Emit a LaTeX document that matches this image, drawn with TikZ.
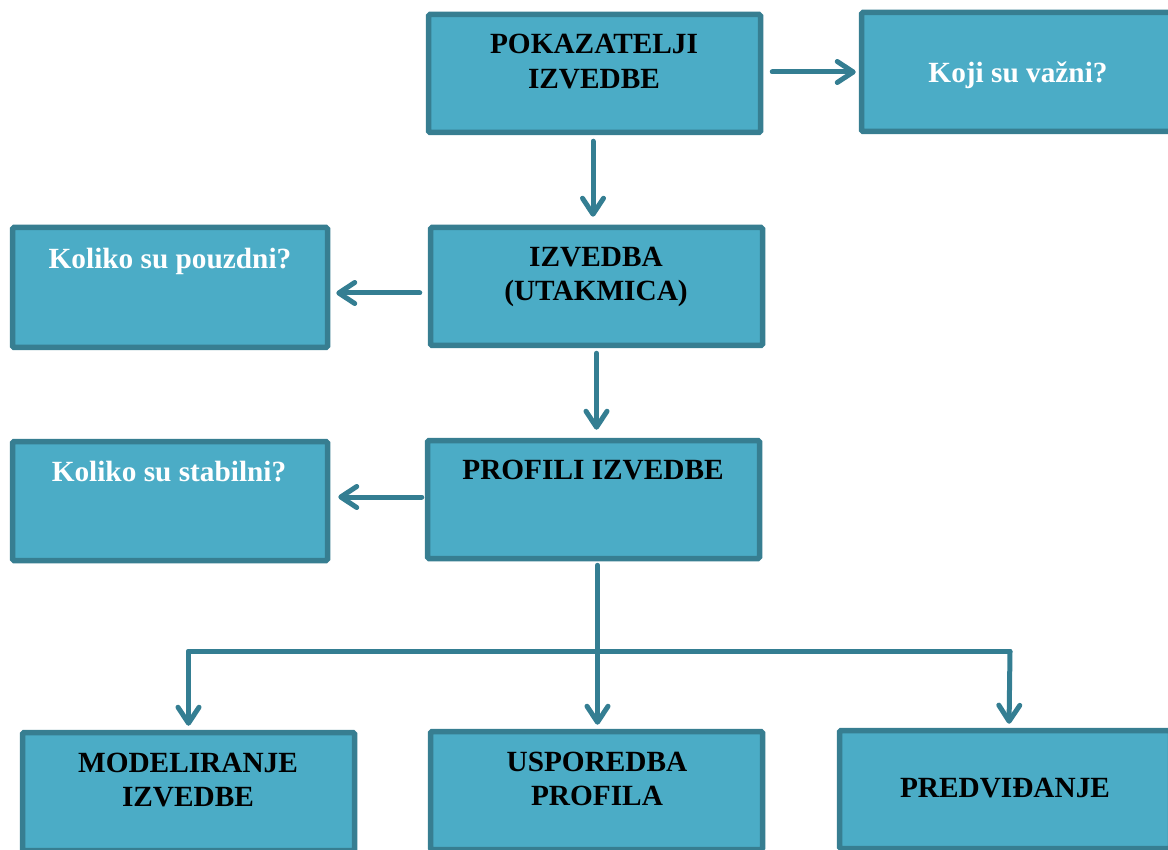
\documentclass[tikz,border=0pt]{standalone}
\usepackage{fontspec}
\setmainfont{Liberation Serif}
\usetikzlibrary{arrows.meta}
\definecolor{boxfill}{HTML}{4BACC6}
\definecolor{boxline}{HTML}{377E91}
\definecolor{arrline}{HTML}{347E92}
\begin{document}
\begin{tikzpicture}[x=1pt,y=-1pt,
  box/.style={draw=boxline, fill=boxfill, line width=5.5pt, rounded corners=1.5pt, inner sep=0pt},
  txt/.style={font=\bfseries\fontsize{29.3}{34.5}\selectfont, align=center, inner sep=0pt},
  dark/.style={txt, text=black},
  light/.style={txt, text=white},
  conn/.style={draw=arrline, line width=5pt, line cap=round},
  arr/.style={conn, -{Straight Barb[length=16pt,width=21pt,round]}}]
\clip (0,0) rectangle (1168,850);
% boxes
\node[box, minimum width=332pt, minimum height=118pt] (b1) at (594.5,73.5) {};
\node[box, minimum width=313pt, minimum height=119pt] (b2) at (1018,72) {};
\node[box, minimum width=315pt, minimum height=120pt] (b3) at (170,287.5) {};
\node[box, minimum width=332pt, minimum height=118pt] (b4) at (596.5,286.5) {};
\node[box, minimum width=315pt, minimum height=119pt] (b5) at (170,501) {};
\node[box, minimum width=332pt, minimum height=118pt] (b6) at (593.5,499.5) {};
\node[box, minimum width=332pt, minimum height=118pt] (b7) at (188.5,791.5) {};
\node[box, minimum width=332pt, minimum height=118pt] (b8) at (596.5,790.5) {};
\node[box, minimum width=331pt, minimum height=118pt] (b9) at (1005,789.5) {};
% texts
\node[dark, anchor=north] (t1) at (594,34) {POKAZATELJI\\IZVEDBE};
\node[light, anchor=base] (t2) at (1018,83) {Koji su važni?};
\node[light, anchor=base] (t3) at (170,269) {Koliko su pouzdni?};
\node[dark, anchor=north] (t4) at (596,246.5) {IZVEDBA\\(UTAKMICA)};
\node[light, anchor=base] (t5) at (169,481) {Koliko su stabilni?};
\node[dark, anchor=base] (t6) at (593,479.5) {PROFILI IZVEDBE};
\node[dark, anchor=north] (t7) at (188,752.5) {MODELIRANJE\\IZVEDBE};
\node[dark, anchor=north] (t8) at (597,751.5) {USPOREDBA\\PROFILA};
\node[dark, anchor=base] (t9) at (1005,797) {PREDVIĐANJE};
% connectors
\draw[arr, shorten <=9pt, shorten >=3pt] ([yshift=1.5pt]b1.east) -- ([yshift=1.5pt]b1.east -| b2.west);
\draw[arr, shorten <=6pt, shorten >=8pt] ([xshift=-1.5pt]b1.south) -- ([xshift=-1.5pt]b1.south |- b4.north);
\draw[arr, shorten <=8pt, shorten >=6pt] ([yshift=-6.5pt]b4.west) -- ([yshift=-6.5pt]b4.west -| b3.east);
\draw[arr, shorten <=5pt, shorten >=8pt] (b4.south) -- (b4.south |- b6.north);
\draw[arr, shorten <=3pt, shorten >=8pt] ([yshift=2.5pt]b6.west) -- ([yshift=2.5pt]b6.west -| b5.east);
\draw[arr, shorten <=4pt, shorten >=4pt] ([xshift=4pt]b6.south) -- ([xshift=1pt]b8.north);
\coordinate (hl) at (188.5,651.5);
\coordinate (hr) at (1010,651.5);
\draw[conn] (hl) -- (hr);
\draw[arr, shorten >=4pt] (hl) -- (hl |- b7.north);
\draw[arr, shorten >=4pt] (hr) -- ([xshift=4pt]b9.north);
\end{tikzpicture}
\end{document}
